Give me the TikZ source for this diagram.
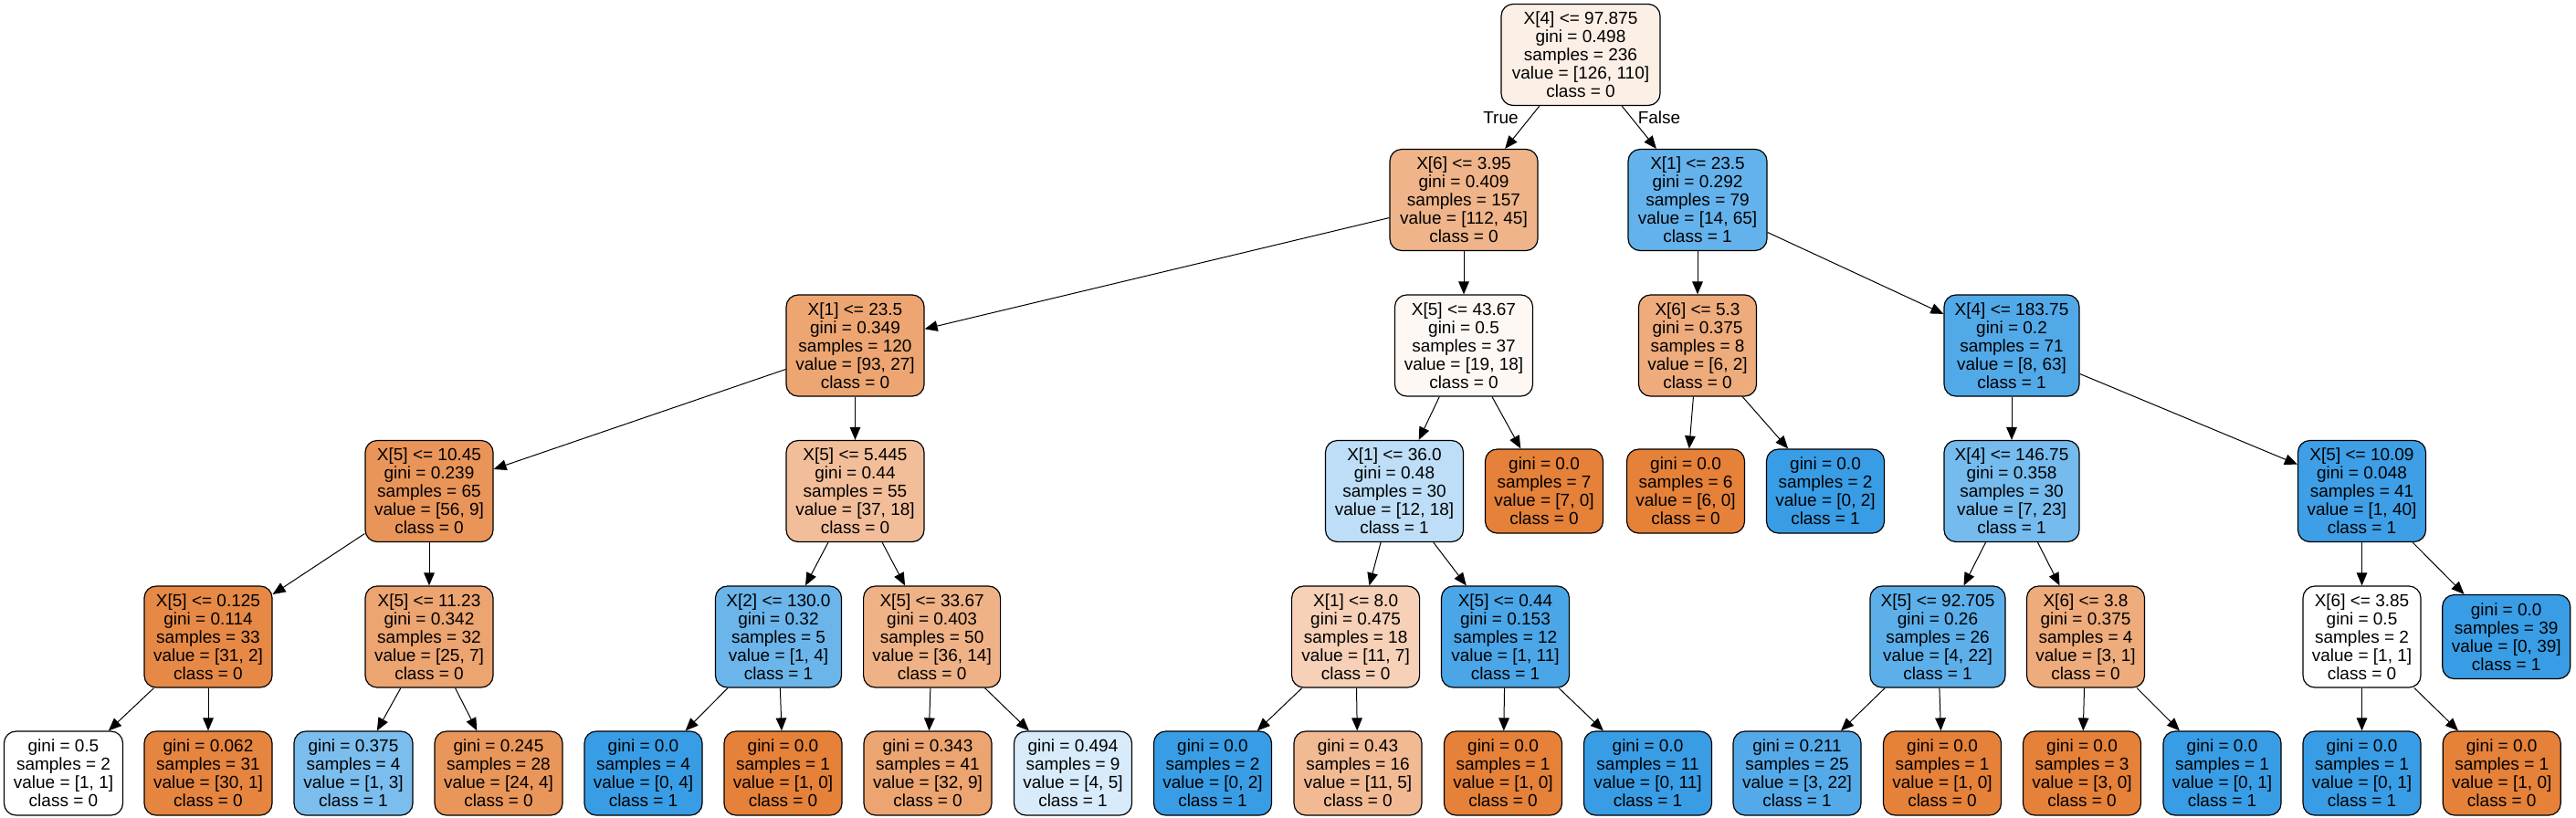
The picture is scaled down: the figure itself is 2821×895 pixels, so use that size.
\documentclass[tikz,border=0pt]{standalone}
\usepackage{fontspec}
\setmainfont{Liberation Sans}
\usetikzlibrary{arrows.meta}
\definecolor{cA}{RGB}{229,129,57}
\definecolor{cB}{RGB}{57,157,229}
\begin{document}
\begin{tikzpicture}[x=0.5pt,y=-0.5pt,
  box/.style={draw=black, rounded corners=6.5pt, line width=0.6pt, align=center,
    font=\fontsize{9.5pt}{10pt}\selectfont, inner sep=0pt, minimum height=55.5pt},
  leaf/.style={box, minimum height=46pt},
  wd/.style={minimum width=#1*0.5pt},
  edge/.style={line width=0.5pt, -{Triangle[length=7pt,width=5.8pt]}},
  elab/.style={font=\fontsize{9.5pt}{10pt}\selectfont, inner sep=0pt}]
\useasboundingbox (0,0) rectangle (2821,895);
% level 0
\node[box, wd=174, fill=cA!12.7!white] (n0) at (1731,60) {X[4] <= 97.875\\gini = 0.498\\samples = 236\\value = [126, 110]\\class = 0};
% level 1
\node[box, wd=162, fill=cA!59.8!white] (n1) at (1603,219) {X[6] <= 3.95\\gini = 0.409\\samples = 157\\value = [112, 45]\\class = 0};
\node[box, wd=152, fill=cB!78.5!white] (n2) at (1859,219) {X[1] <= 23.5\\gini = 0.292\\samples = 79\\value = [14, 65]\\class = 1};
% level 2
\node[box, wd=151, fill=cA!71!white] (n3) at (936.5,378.5) {X[1] <= 23.5\\gini = 0.349\\samples = 120\\value = [93, 27]\\class = 0};
\node[box, wd=151, fill=cA!5.3!white] (n4) at (1603,378.5) {X[5] <= 43.67\\gini = 0.5\\samples = 37\\value = [19, 18]\\class = 0};
\node[box, wd=129, fill=cA!66.7!white] (n5) at (1859,378.5) {X[6] <= 5.3\\gini = 0.375\\samples = 8\\value = [6, 2]\\class = 0};
\node[box, wd=148, fill=cB!87.3!white] (n6) at (2203,378.5) {X[4] <= 183.75\\gini = 0.2\\samples = 71\\value = [8, 63]\\class = 1};
% level 3
\node[box, wd=140, fill=cA!83.9!white] (n7) at (470,538) {X[5] <= 10.45\\gini = 0.239\\samples = 65\\value = [56, 9]\\class = 0};
\node[box, wd=151, fill=cA!51.4!white] (n8) at (936.5,538) {X[5] <= 5.445\\gini = 0.44\\samples = 55\\value = [37, 18]\\class = 0};
\node[box, wd=151, fill=cB!33.3!white] (n9) at (1527,538) {X[1] <= 36.0\\gini = 0.48\\samples = 30\\value = [12, 18]\\class = 1};
\node[leaf, wd=129, fill=cA] (n10) at (1691,538) {gini = 0.0\\samples = 7\\value = [7, 0]\\class = 0};
\node[leaf, wd=129, fill=cA] (n11) at (1846,538) {gini = 0.0\\samples = 6\\value = [6, 0]\\class = 0};
\node[leaf, wd=129, fill=cB] (n12) at (1999,538) {gini = 0.0\\samples = 2\\value = [0, 2]\\class = 1};
\node[box, wd=148, fill=cB!69.6!white] (n13) at (2203,538) {X[4] <= 146.75\\gini = 0.358\\samples = 30\\value = [7, 23]\\class = 1};
\node[box, wd=140, fill=cB!97.5!white] (n14) at (2586.5,538) {X[5] <= 10.09\\gini = 0.048\\samples = 41\\value = [1, 40]\\class = 1};
% level 4
\node[box, wd=140, fill=cA!93.5!white] (n15) at (228,697.5) {X[5] <= 0.125\\gini = 0.114\\samples = 33\\value = [31, 2]\\class = 0};
\node[box, wd=140, fill=cA!72!white] (n16) at (470,697.5) {X[5] <= 11.23\\gini = 0.342\\samples = 32\\value = [25, 7]\\class = 0};
\node[box, wd=138, fill=cB!75!white] (n17) at (852.5,697.5) {X[2] <= 130.0\\gini = 0.32\\samples = 5\\value = [1, 4]\\class = 1};
\node[box, wd=150, fill=cA!61.1!white] (n18) at (1020.6,697.5) {X[5] <= 33.67\\gini = 0.403\\samples = 50\\value = [36, 14]\\class = 0};
\node[box, wd=140, fill=cA!36.4!white] (n19) at (1484.6,697.5) {X[1] <= 8.0\\gini = 0.475\\samples = 18\\value = [11, 7]\\class = 0};
\node[box, wd=140, fill=cB!90.9!white] (n20) at (1648.5,697.5) {X[5] <= 0.44\\gini = 0.153\\samples = 12\\value = [1, 11]\\class = 1};
\node[box, wd=148, fill=cB!81.8!white] (n21) at (2122,697.5) {X[5] <= 92.705\\gini = 0.26\\samples = 26\\value = [4, 22]\\class = 1};
\node[box, wd=129, fill=cA!66.7!white] (n22) at (2284,697.5) {X[6] <= 3.8\\gini = 0.375\\samples = 4\\value = [3, 1]\\class = 0};
\node[box, wd=129, fill=white] (n23) at (2586.5,697.5) {X[6] <= 3.85\\gini = 0.5\\samples = 2\\value = [1, 1]\\class = 0};
\node[leaf, wd=140, fill=cB] (n24) at (2744.7,697.5) {gini = 0.0\\samples = 39\\value = [0, 39]\\class = 1};
% level 5
\node[leaf, wd=130, fill=white] (n25) at (69.5,847) {gini = 0.5\\samples = 2\\value = [1, 1]\\class = 0};
\node[leaf, wd=140, fill=cA!96.7!white] (n26) at (228,847) {gini = 0.062\\samples = 31\\value = [30, 1]\\class = 0};
\node[leaf, wd=130, fill=cB!66.7!white] (n27) at (387,847) {gini = 0.375\\samples = 4\\value = [1, 3]\\class = 1};
\node[leaf, wd=140, fill=cA!83.3!white] (n28) at (546,847) {gini = 0.245\\samples = 28\\value = [24, 4]\\class = 0};
\node[leaf, wd=129, fill=cB] (n29) at (704.5,847) {gini = 0.0\\samples = 4\\value = [0, 4]\\class = 1};
\node[leaf, wd=129, fill=cA] (n30) at (857.5,847) {gini = 0.0\\samples = 1\\value = [1, 0]\\class = 0};
\node[leaf, wd=140, fill=cA!71.9!white] (n31) at (1016,847) {gini = 0.343\\samples = 41\\value = [32, 9]\\class = 0};
\node[leaf, wd=129, fill=cB!20!white] (n32) at (1175,847) {gini = 0.494\\samples = 9\\value = [4, 5]\\class = 1};
\node[leaf, wd=129, fill=cB] (n33) at (1328,847) {gini = 0.0\\samples = 2\\value = [0, 2]\\class = 1};
\node[leaf, wd=140, fill=cA!54.5!white] (n34) at (1487,847) {gini = 0.43\\samples = 16\\value = [11, 5]\\class = 0};
\node[leaf, wd=129, fill=cA] (n35) at (1646,847) {gini = 0.0\\samples = 1\\value = [1, 0]\\class = 0};
\node[leaf, wd=140, fill=cB] (n36) at (1804.5,847) {gini = 0.0\\samples = 11\\value = [0, 11]\\class = 1};
\node[leaf, wd=140, fill=cB!86.4!white] (n37) at (1968,847) {gini = 0.211\\samples = 25\\value = [3, 22]\\class = 1};
\node[leaf, wd=129, fill=cA] (n38) at (2127,847) {gini = 0.0\\samples = 1\\value = [1, 0]\\class = 0};
\node[leaf, wd=129, fill=cA] (n39) at (2280,847) {gini = 0.0\\samples = 3\\value = [3, 0]\\class = 0};
\node[leaf, wd=129, fill=cB] (n40) at (2433.5,847) {gini = 0.0\\samples = 1\\value = [0, 1]\\class = 1};
\node[leaf, wd=129, fill=cB] (n41) at (2586.5,847) {gini = 0.0\\samples = 1\\value = [0, 1]\\class = 1};
\node[leaf, wd=129, fill=cA] (n42) at (2739.7,847) {gini = 0.0\\samples = 1\\value = [1, 0]\\class = 0};
% edge labels
\node[elab] (tl) at (1643.5,129) {True};
\node[elab] (fl) at (1817,129) {False};
% edges
\foreach \a/\b in {n0/n1,n0/n2,n1/n3,n1/n4,n2/n5,n2/n6,n3/n7,n3/n8,n4/n9,n4/n10,n5/n11,n5/n12,n6/n13,n6/n14,
  n7/n15,n7/n16,n8/n17,n8/n18,n9/n19,n9/n20,n13/n21,n13/n22,n14/n23,n14/n24,
  n15/n25,n15/n26,n16/n27,n16/n28,n17/n29,n17/n30,n18/n31,n18/n32,n19/n33,n19/n34,
  n20/n35,n20/n36,n21/n37,n21/n38,n22/n39,n22/n40,n23/n41,n23/n42}
  \draw[edge] (\a) -- (\b);
\end{tikzpicture}
\end{document}
